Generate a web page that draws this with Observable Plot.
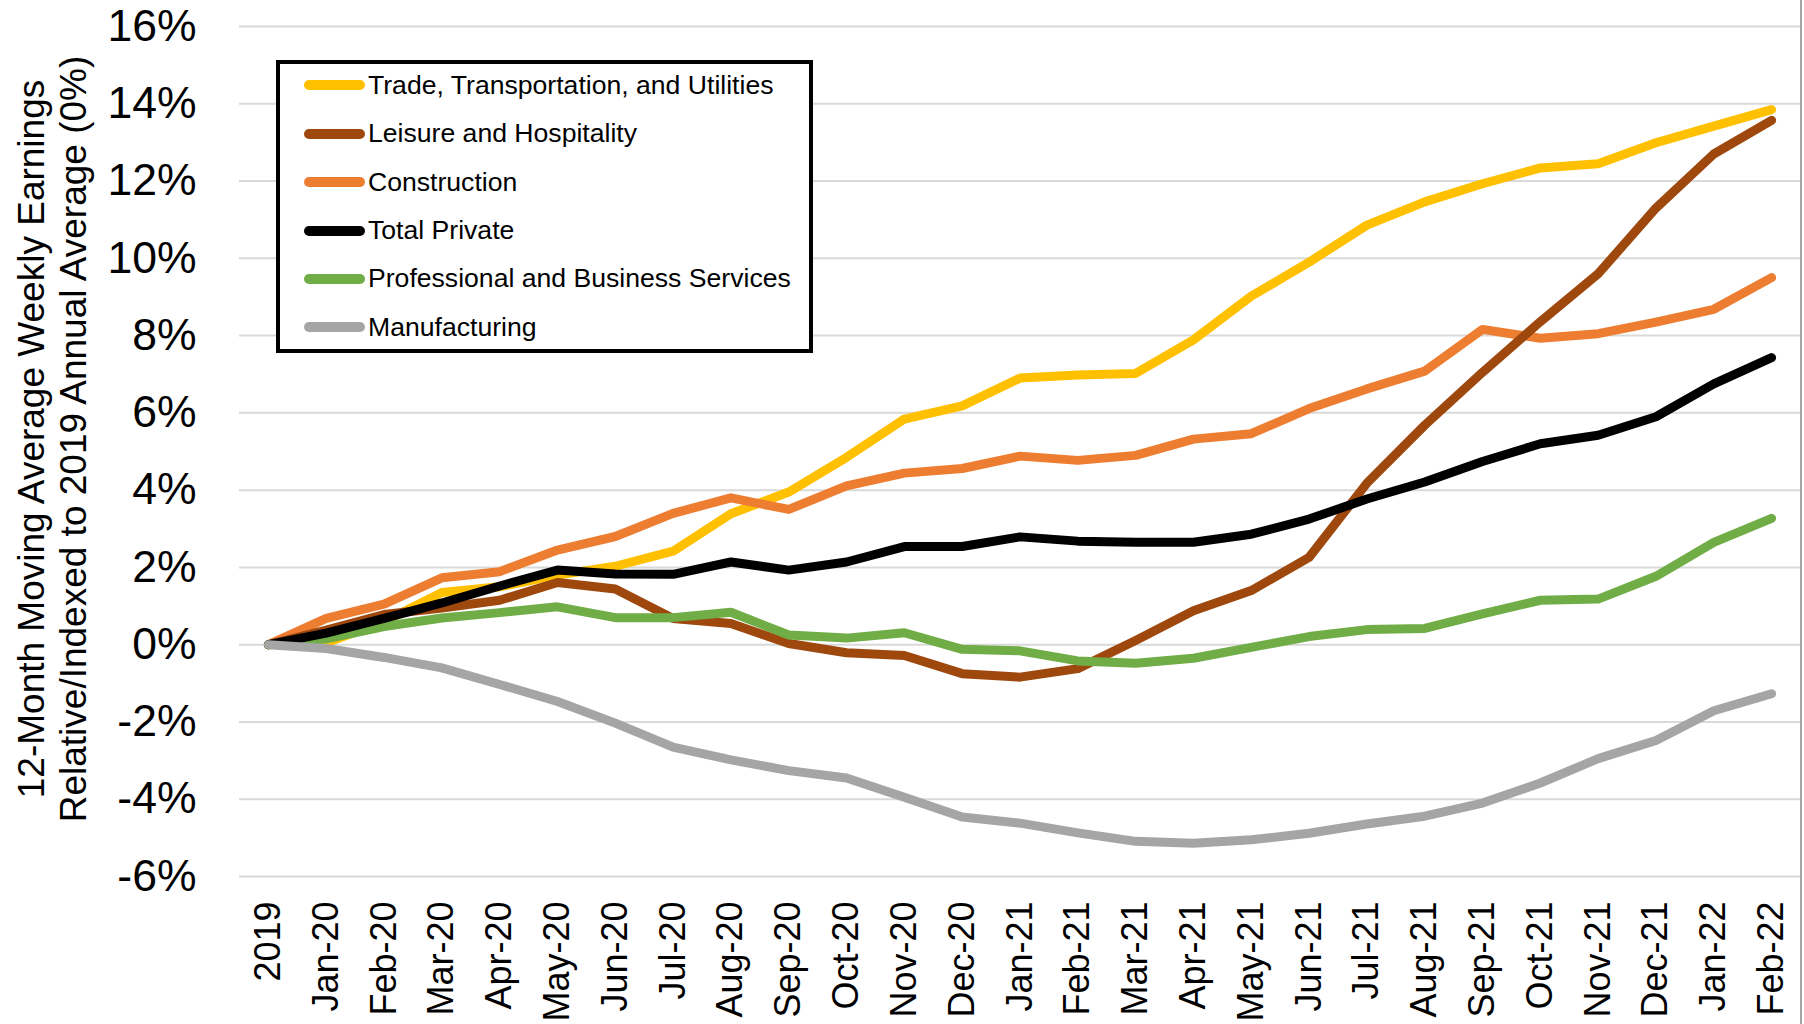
<!DOCTYPE html>
<html>
<head>
<meta charset="utf-8">
<script src="https://cdn.jsdelivr.net/npm/d3@7"></script>
<script src="https://cdn.jsdelivr.net/npm/@observablehq/plot@0.6"></script>
<style>
  html, body { margin: 0; padding: 0; background: #fff; }
  #wrap { position: relative; width: 1804px; height: 1024px; overflow: hidden; font-family: "Liberation Sans", Arial, sans-serif; }
  #edge { position: absolute; left: 1800px; top: 0; width: 2px; height: 1024px; background: #a6a6a6; }
  #ytitle { position: absolute; left: 53px; top: 439px; width: 900px; height: 84px;
            transform: translate(-50%, -50%) rotate(-90deg); text-align: center;
            font-size: 37px; line-height: 42px; color: #000; white-space: nowrap; }
  #legend { position: absolute; left: 276px; top: 60px; width: 529px; height: 285px;
            border: 4px solid #000; background: #fff; }
  .item { position: absolute; left: 0; height: 40px; display: flex; align-items: center; }
  .sw { display: inline-block; width: 61px; height: 10px; border-radius: 5px; margin-left: 24px; margin-right: 3px; }
  .lab { font-size: 26.6px; color: #000; white-space: nowrap; }
</style>
</head>
<body>
<div id="wrap">
  <div id="chart"></div>
  <div id="edge"></div>
  <div id="ytitle"></div>
  <div id="legend"></div>
</div>
<script>
const months = ["2019","Jan-20","Feb-20","Mar-20","Apr-20","May-20","Jun-20","Jul-20","Aug-20","Sep-20","Oct-20","Nov-20","Dec-20",
  "Jan-21","Feb-21","Mar-21","Apr-21","May-21","Jun-21","Jul-21","Aug-21","Sep-21","Oct-21","Nov-21","Dec-21","Jan-22","Feb-22"];

const trade         = [0,0.05,0.6,1.35,1.5,1.8,2.03,2.42,3.39,3.95,4.85,5.84,6.18,6.9,6.98,7.02,7.89,9.02,9.9,10.86,11.46,11.93,12.34,12.45,12.99,13.42,13.85];
const leisure       = [0,0.38,0.78,0.95,1.15,1.61,1.44,0.68,0.55,0.03,-0.21,-0.28,-0.75,-0.84,-0.62,0.11,0.88,1.4,2.26,4.18,5.68,7.05,8.36,9.6,11.3,12.7,13.57];
const construction  = [0,0.68,1.05,1.73,1.89,2.45,2.8,3.4,3.8,3.5,4.11,4.44,4.56,4.88,4.77,4.9,5.32,5.46,6.11,6.62,7.08,8.16,7.93,8.05,8.35,8.68,9.5];
const totalPrivate  = [0,0.3,0.68,1.08,1.52,1.93,1.83,1.82,2.14,1.93,2.14,2.54,2.54,2.79,2.68,2.65,2.65,2.86,3.25,3.77,4.21,4.74,5.2,5.42,5.9,6.75,7.43];
const professional  = [0,0.15,0.47,0.69,0.83,0.98,0.7,0.7,0.84,0.25,0.17,0.31,-0.12,-0.16,-0.42,-0.48,-0.35,-0.07,0.21,0.39,0.42,0.8,1.15,1.18,1.77,2.65,3.27];
const manufacturing = [0,-0.1,-0.33,-0.6,-1.03,-1.47,-2.03,-2.65,-2.98,-3.26,-3.45,-3.95,-4.46,-4.62,-4.87,-5.09,-5.14,-5.05,-4.88,-4.64,-4.44,-4.1,-3.58,-2.95,-2.48,-1.71,-1.27];

const seriesNames  = ["Trade, Transportation, and Utilities","Leisure and Hospitality","Construction","Total Private","Professional and Business Services","Manufacturing"];
const seriesColors = ["#FFC000","#9E480E","#ED7D31","#000000","#70AD47","#A5A5A5"];
const seriesValues = [trade, leisure, construction, totalPrivate, professional, manufacturing];
const drawOrder = [0, 2, 1, 4, 3, 5];

const yTicks = [-6,-4,-2,0,2,4,6,8,10,12,14,16];
const yTitleLines = ["12-Month Moving Average Weekly Earnings", "Relative/Indexed to 2019 Annual Average (0%)"];

const rows = [];
seriesNames.forEach((name, si) => {
  months.forEach((m, i) => rows.push({series: name, month: m, value: seriesValues[si][i]}));
});

const chart = Plot.plot({
  width: 1804,
  height: 1024,
  marginLeft: 239,
  marginRight: 4,
  marginTop: 26,
  marginBottom: 148,
  style: {fontFamily: "'Liberation Sans', Arial, sans-serif", background: "transparent", overflow: "visible"},
  x: {type: "point", domain: months, padding: 0.5, round: false},
  y: {domain: [-6, 16]},
  marks: [
    Plot.gridY(yTicks, {stroke: "#d9d9d9", strokeWidth: 2, strokeOpacity: 1}),
    Plot.axisY(yTicks, {tickSize: 0, tickPadding: 43, fontSize: 44.5, tickFormat: d => d + "%", label: null, fill: "#000"}),
    Plot.axisX({tickRotate: -90, tickSize: 0, tickPadding: 25, fontSize: 36, label: null, fill: "#000"}),
    ...drawOrder.map(si => Plot.line(rows.filter(r => r.series === seriesNames[si]), {
      x: "month", y: "value", stroke: seriesColors[si], strokeWidth: 9,
      strokeLinecap: "round", strokeLinejoin: "round"
    }))
  ]
});
document.getElementById("chart").appendChild(chart);

document.getElementById("ytitle").innerHTML = yTitleLines.map(t => `<div>${t}</div>`).join("");

const legend = document.getElementById("legend");
seriesNames.forEach((name, i) => {
  const it = document.createElement("div");
  it.className = "item";
  it.style.top = (1.3 + i * 48.4) + "px";
  it.innerHTML = `<span class="sw" style="background:${seriesColors[i]}"></span><span class="lab">${name}</span>`;
  legend.appendChild(it);
});
</script>
</body>
</html>
